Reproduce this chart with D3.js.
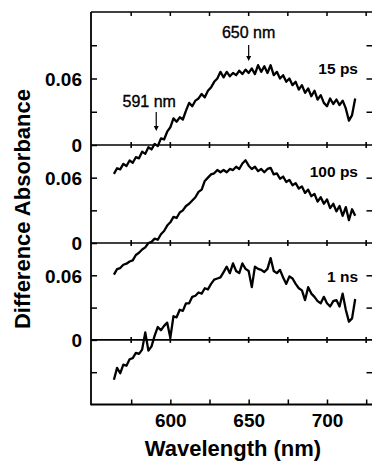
<!DOCTYPE html>
<html><head><meta charset="utf-8">
<script src="https://cdn.jsdelivr.net/npm/d3@7"></script>
<style>
html,body{margin:0;padding:0;background:#fff;}
svg{display:block;}
text{font-family:"Liberation Sans",Arial,Helvetica,sans-serif;fill:#000;}
</style></head>
<body>
<svg id="chart" width="372" height="461"></svg>
<script>
const wavelengths = [564,566,568,570,572,574,576,578,580,582,584,586,588,590,592,594,596,598,600,602,604,606,608,610,612,614,616,618,620,622,624,626,628,630,632,634,636,638,640,642,644,646,648,650,652,654,656,658,660,662,664,666,668,670,672,674,676,678,680,682,684,686,688,690,692,694,696,698,700,702,704,706,708,710,712,714,716,718];

const series15ps = [-0.026,-0.021,-0.022,-0.017,-0.019,-0.014,-0.016,-0.011,-0.012,-0.006,-0.008,-0.002,-0.004,0.001,-0.001,0.006,0.005,0.012,0.016,0.024,0.021,0.025,0.023,0.031,0.038,0.035,0.040,0.042,0.046,0.043,0.049,0.052,0.057,0.060,0.066,0.061,0.066,0.062,0.065,0.063,0.067,0.064,0.068,0.065,0.069,0.064,0.072,0.066,0.071,0.065,0.072,0.063,0.066,0.060,0.063,0.057,0.060,0.054,0.057,0.050,0.054,0.047,0.051,0.044,0.049,0.041,0.045,0.038,0.035,0.042,0.037,0.041,0.036,0.040,0.033,0.022,0.027,0.042];

const series100ps = [-0.029,-0.024,-0.023,-0.020,-0.019,-0.017,-0.016,-0.011,-0.009,-0.006,-0.004,0.000,0.001,0.004,0.003,0.008,0.011,0.016,0.019,0.024,0.023,0.028,0.030,0.034,0.036,0.039,0.042,0.047,0.049,0.057,0.060,0.063,0.064,0.067,0.065,0.067,0.065,0.068,0.067,0.070,0.068,0.073,0.076,0.071,0.068,0.070,0.066,0.068,0.065,0.068,0.069,0.063,0.064,0.059,0.061,0.056,0.058,0.053,0.055,0.050,0.052,0.046,0.049,0.043,0.045,0.038,0.042,0.036,0.040,0.032,0.036,0.029,0.034,0.025,0.033,0.021,0.031,0.025];

const series1ns = [-0.037,-0.026,-0.031,-0.023,-0.024,-0.018,-0.017,-0.012,-0.013,-0.009,0.007,-0.010,-0.006,0.004,0.012,0.009,0.013,0.016,0.002,0.022,0.021,0.028,0.027,0.034,0.034,0.040,0.041,0.044,0.043,0.048,0.047,0.052,0.056,0.057,0.058,0.063,0.068,0.062,0.071,0.064,0.062,0.071,0.066,0.064,0.049,0.068,0.066,0.065,0.063,0.066,0.076,0.064,0.062,0.065,0.058,0.052,0.059,0.057,0.052,0.048,0.046,0.037,0.049,0.043,0.040,0.036,0.034,0.040,0.034,0.031,0.036,0.037,0.031,0.043,0.028,0.017,0.020,0.038];

const panelLabels = ["15 ps","100 ps","1 ns"];
const xTickValues = [575,600,625,650,675,700,725];
const xTickLabels = [600,650,700];
const yLabelValues = [0,0.06];
const annotationText = ["591 nm","650 nm"];
const annotationWl = [591,650];

(function draw(){
const svg = d3.select("#chart");
const W = 372, H = 461;
const pL = 91, pR = 372.5, pT = 12, pB = 404.5;

svg.append("rect").attr("width",W).attr("height",H).attr("fill","#fff");

const x = d3.scaleLinear().domain([550,730]).range([92,374]);

const panels = [
  {values:series15ps, label:panelLabels[0], y:d3.scaleLinear().domain([0,0.12]).range([145,pT]), ticks:[0.03,0.06,0.09], labelBase:73.5},
  {values:series100ps, label:panelLabels[1], y:d3.scaleLinear().domain([0,0.09]).range([243,145]), ticks:[0.03,0.06], labelBase:176.5},
  {values:series1ns, label:panelLabels[2], y:d3.scaleLinear().domain([-0.06,0.09]).range([pB,243]), ticks:[-0.03,0.03,0.06], labelBase:281.5}
];

const fmt = d => d === 0 ? "0" : d3.format(".2f")(d);

panels.forEach((p, i) => {
  const gl = svg.append("g").attr("transform",`translate(${pL},0)`)
    .call(d3.axisLeft(p.y).tickValues(p.ticks.concat([0])).tickSize(-6).tickPadding(9)
      .tickFormat(d => yLabelValues.includes(d) ? fmt(d) : ""));
  gl.select(".domain").remove();
  gl.selectAll(".tick line").attr("stroke","#000").attr("stroke-width",1.5);
  gl.selectAll(".tick text").attr("font-size",19).attr("font-weight","bold").attr("dy","0.36em");
  const gr = svg.append("g").attr("transform",`translate(${pR},0)`)
    .call(d3.axisRight(p.y).tickValues(p.ticks).tickSize(-6).tickFormat(""));
  gr.select(".domain").remove();
  gr.selectAll(".tick line").attr("stroke","#000").attr("stroke-width",1.5);

  svg.append("line").attr("x1",pL).attr("x2",pR).attr("y1",p.y(0)).attr("y2",p.y(0))
    .attr("stroke","#000").attr("stroke-width",1.6);
  svg.append("g").selectAll("line").data(xTickValues).join("line")
    .attr("x1",d=>x(d)).attr("x2",d=>x(d))
    .attr("y1",p.y(0)-3).attr("y2",p.y(0)+3)
    .attr("stroke","#000").attr("stroke-width",1.6);

  const line = d3.line().x((d,j)=>x(wavelengths[j])).y(d=>p.y(d)).curve(d3.curveLinear);
  svg.append("path").datum(p.values).attr("d",line)
    .attr("fill","none").attr("stroke","#000").attr("stroke-width",2.3)
    .attr("stroke-linejoin","round");

  svg.append("text").attr("x",358).attr("y",p.labelBase).attr("text-anchor","end")
    .attr("font-size",15.5).attr("font-weight","bold").text(p.label);
});

svg.append("line").attr("x1",pL).attr("x2",pL).attr("y1",pT).attr("y2",pB+0.8)
  .attr("stroke","#000").attr("stroke-width",1.8);
svg.append("line").attr("x1",pL).attr("x2",pR).attr("y1",pT).attr("y2",pT)
  .attr("stroke","#000").attr("stroke-width",1.6);
svg.append("g").selectAll("line").data(xTickValues).join("line")
  .attr("x1",d=>x(d)).attr("x2",d=>x(d)).attr("y1",pT).attr("y2",pT+4)
  .attr("stroke","#000").attr("stroke-width",1.5);

const gx = svg.append("g").attr("transform",`translate(0,${pB})`)
  .call(d3.axisBottom(x).tickValues(xTickValues).tickSize(-5).tickPadding(9)
    .tickFormat(d => xTickLabels.includes(d) ? d : ""));
gx.select(".domain").attr("d",`M${pL},0H${pR}`).attr("stroke","#000").attr("stroke-width",1.8);
gx.selectAll(".tick line").attr("stroke","#000").attr("stroke-width",1.5);
gx.selectAll(".tick text").attr("font-size",19).attr("font-weight","bold");

svg.append("text").attr("x",233).attr("y",456).attr("text-anchor","middle")
  .attr("font-size",22).attr("font-weight","bold").text("Wavelength (nm)");
svg.append("text").attr("transform","translate(30,209) rotate(-90)").attr("text-anchor","middle")
  .attr("font-size",22).attr("font-weight","bold").text("Difference Absorbance");

const arrowSpecs = [
  {y1:112, y2:131, textY:107, dx:-7},
  {y1:45, y2:61, textY:38, dx:0}
];
annotationWl.forEach((wl, i) => {
  const ax = x(wl);
  const a = arrowSpecs[i];
  svg.append("text").attr("x",ax + a.dx).attr("y",a.textY).attr("text-anchor","middle")
    .attr("font-size",16).attr("stroke","#000").attr("stroke-width",0.35).text(annotationText[i]);
  svg.append("line").attr("x1",ax).attr("x2",ax).attr("y1",a.y1).attr("y2",a.y2-3)
    .attr("stroke","#000").attr("stroke-width",1.2);
  svg.append("path").attr("d",`M${ax-2.5},${a.y2-5}L${ax+2.5},${a.y2-5}L${ax},${a.y2}Z`).attr("fill","#000");
});
})();
</script>
</body></html>
